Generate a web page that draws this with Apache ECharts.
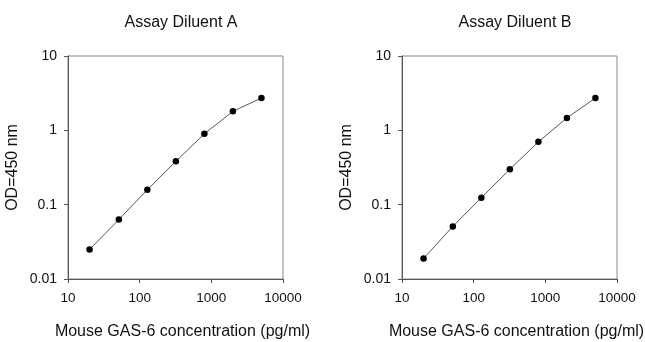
<!DOCTYPE html>
<html><head><meta charset="utf-8">
<script src="https://cdn.jsdelivr.net/npm/echarts@6/dist/echarts.min.js"></script>
<style>html,body{margin:0;padding:0;background:#fff}#c{width:645px;height:342px}</style>
</head><body><div id="c"></div>
<script>
const concentrations = [20, 51.2, 128, 320, 800, 2000, 5000];
const odDiluentA = [0.025, 0.063, 0.159, 0.383, 0.90, 1.80, 2.72];
const odDiluentB = [0.0189, 0.051, 0.124, 0.299, 0.70, 1.47, 2.72];
const titles = ['Assay Diluent A', 'Assay Diluent B'];
const xName = 'Mouse GAS-6 concentration (pg/ml)';
const yName = 'OD=450 nm';

const font = 'Liberation Sans, Arial, sans-serif';
const grids = [
  {left: 68, top: 56, width: 215, height: 223},
  {left: 402, top: 56, width: 215, height: 223}
];
function fmt(v){return String(+(+v).toPrecision(6));}
function xAx(i){return {type:'log', logBase:10, gridIndex:i, min:10, max:10000,
  name:xName, nameLocation:'middle', nameGap:45,
  nameTextStyle:{fontFamily:font, fontSize:16, color:'#111', padding:[0,0,0,14]},
  axisLine:{lineStyle:{color:'#555', width:1}},
  axisTick:{show:true, length:4, lineStyle:{color:'#555'}},
  minorTick:{show:false}, splitLine:{show:false},
  axisLabel:{fontFamily:font, fontSize:13.5, color:'#111', margin:12, formatter:fmt}};}
function yAx(i){return {type:'log', logBase:10, gridIndex:i, min:0.01, max:10,
  name:yName, nameLocation:'middle', nameGap:47, nameRotate:90,
  nameTextStyle:{fontFamily:font, fontSize:16, color:'#111'},
  axisLine:{lineStyle:{color:'#555', width:1}},
  axisTick:{show:true, length:4, lineStyle:{color:'#555'}},
  minorTick:{show:false}, splitLine:{show:false},
  axisLabel:{fontFamily:font, fontSize:14, color:'#111', margin:11, formatter:fmt}};}
function ser(i, ys){return {type:'line', xAxisIndex:i, yAxisIndex:i,
  data: concentrations.map((x,k)=>[x, ys[k]]),
  symbol:'circle', symbolSize:6.5, itemStyle:{color:'#000'},
  lineStyle:{color:'#555', width:1}, animation:false};}
const chart = echarts.init(document.getElementById('c'), null, {renderer:'canvas'});
chart.setOption({
  animation:false,
  title: [
    {text:titles[0], left:176, top:10, textAlign:'center', textStyle:{fontFamily:font, fontSize:16, fontWeight:'normal', color:'#111'}},
    {text:titles[1], left:510, top:10, textAlign:'center', textStyle:{fontFamily:font, fontSize:16, fontWeight:'normal', color:'#111'}}
  ],
  grid: grids.map(g=>Object.assign({show:true, borderColor:'#888', borderWidth:1, backgroundColor:'transparent', containLabel:false, outerBoundsMode:'none'}, g)),
  xAxis:[xAx(0), xAx(1)],
  yAxis:[yAx(0), yAx(1)],
  series:[ser(0, odDiluentA), ser(1, odDiluentB)]
});
</script></body></html>
